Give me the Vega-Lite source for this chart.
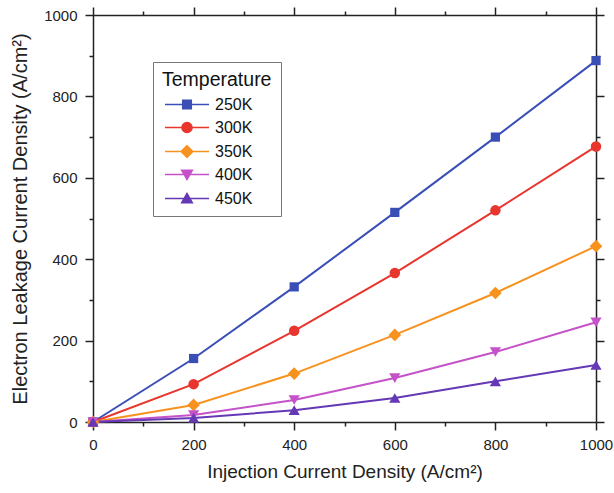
{
  "$schema": "https://vega.github.io/schema/vega-lite/v6.json",
  "width": 503,
  "height": 407,
  "autosize": {"type": "none"},
  "padding": {"left": 93, "top": 15, "right": 18, "bottom": 71},
  "background": "white",
  "config": {
    "font": "Liberation Sans",
    "view": {"stroke": null},
    "axis": {
      "grid": false,
      "labelFont": "Liberation Sans",
      "titleFont": "Liberation Sans",
      "labelFontSize": 15,
      "titleFontSize": 19,
      "titleFontWeight": "normal",
      "labelColor": "#222",
      "titleColor": "#222",
      "domainColor": "#222",
      "tickColor": "#222",
      "domainWidth": 1.5,
      "tickWidth": 1.5,
      "labelFlush": false,
      "format": "d"
    }
  },
  "data": {
    "values": [
      {"x": 0, "y": 0, "T": "250K"}, {"x": 200, "y": 156, "T": "250K"}, {"x": 400, "y": 332, "T": "250K"}, {"x": 600, "y": 515, "T": "250K"}, {"x": 800, "y": 700, "T": "250K"}, {"x": 1000, "y": 888, "T": "250K"},
      {"x": 0, "y": 0, "T": "300K"}, {"x": 200, "y": 93, "T": "300K"}, {"x": 400, "y": 224, "T": "300K"}, {"x": 600, "y": 366, "T": "300K"}, {"x": 800, "y": 520, "T": "300K"}, {"x": 1000, "y": 677, "T": "300K"},
      {"x": 0, "y": 0, "T": "350K"}, {"x": 200, "y": 42, "T": "350K"}, {"x": 400, "y": 119, "T": "350K"}, {"x": 600, "y": 214, "T": "350K"}, {"x": 800, "y": 317, "T": "350K"}, {"x": 1000, "y": 432, "T": "350K"},
      {"x": 0, "y": 0, "T": "400K"}, {"x": 200, "y": 17, "T": "400K"}, {"x": 400, "y": 54, "T": "400K"}, {"x": 600, "y": 108, "T": "400K"}, {"x": 800, "y": 172, "T": "400K"}, {"x": 1000, "y": 245, "T": "400K"},
      {"x": 0, "y": 0, "T": "450K"}, {"x": 200, "y": 10, "T": "450K"}, {"x": 400, "y": 29, "T": "450K"}, {"x": 600, "y": 59, "T": "450K"}, {"x": 800, "y": 100, "T": "450K"}, {"x": 1000, "y": 140, "T": "450K"}
    ]
  },
  "resolve": {"axis": {"x": "independent", "y": "independent"}},
  "layer": [
    {
      "mark": {"type": "line", "strokeWidth": 2},
      "encoding": {
        "x": {"field": "x", "type": "quantitative", "scale": {"domain": [0, 1000], "nice": false},
          "axis": {"orient": "bottom", "values": [0, 200, 400, 600, 800, 1000], "tickSize": 8, "labelPadding": 7, "title": "Injection Current Density (A/cm²)", "titlePadding": 10}},
        "y": {"field": "y", "type": "quantitative", "scale": {"domain": [0, 1000], "nice": false},
          "axis": {"orient": "left", "values": [0, 200, 400, 600, 800, 1000], "tickSize": 8, "labelPadding": 8, "title": "Electron Leakage Current Density (A/cm²)", "titleFontSize": 20, "titlePadding": 13}},
        "color": {"field": "T", "type": "nominal",
          "scale": {"domain": ["250K", "300K", "350K", "400K", "450K"], "range": ["#3a4fb6", "#e8352d", "#f7921f", "#c552c8", "#6538b5"]},
          "legend": {
            "orient": "none", "legendX": 60, "legendY": 47,
            "title": "Temperature", "titleFontSize": 19.5, "titleFontWeight": "normal", "titleColor": "#111", "titlePadding": 6,
            "labelFontSize": 16, "labelColor": "#111",
            "padding": 9, "strokeColor": "#777", "fillColor": "white",
            "symbolSize": 100, "symbolOffset": 17, "labelOffset": 20, "rowPadding": 6,
            "encode": {"symbols": {"update": {
              "shape": {"signal": "datum.value === '250K' ? 'M-4.4,0H4.4M-0.85,-0.85H0.85V0.85H-0.85Z' : datum.value === '300K' ? 'M-4.4,0H-1M1,0H4.4M-1,0A1,1 0 1,0 1,0A1,1 0 1,0 -1,0Z' : datum.value === '350K' ? 'M-4.4,0H4.4M0,-1.15L1.15,0L0,1.15L-1.15,0Z' : datum.value === '400K' ? 'M-4.4,0H4.4M-1.05,-0.85H1.05L0,1Z' : 'M-4.4,0H4.4M-1.05,0.85H1.05L0,-1Z'"},
              "stroke": {"scale": "color", "field": "value"},
              "fill": {"scale": "color", "field": "value"},
              "strokeWidth": {"value": 1.6},
              "opacity": {"value": 1}
            }}}
          }}
      }
    },
    {
      "transform": [{"filter": "datum.T === '250K'"}],
      "mark": {"type": "point", "filled": true, "opacity": 1, "shape": "square", "size": 85},
      "encoding": {
        "x": {"field": "x", "type": "quantitative", "axis": null},
        "y": {"field": "y", "type": "quantitative", "axis": null},
        "color": {"field": "T", "type": "nominal"}
      }
    },
    {
      "transform": [{"filter": "datum.T === '300K'"}],
      "mark": {"type": "point", "filled": true, "opacity": 1, "shape": "circle", "size": 110},
      "encoding": {
        "x": {"field": "x", "type": "quantitative", "axis": null},
        "y": {"field": "y", "type": "quantitative", "axis": null},
        "color": {"field": "T", "type": "nominal"}
      }
    },
    {
      "transform": [{"filter": "datum.T === '350K'"}],
      "mark": {"type": "point", "filled": true, "opacity": 1, "shape": "diamond", "size": 160},
      "encoding": {
        "x": {"field": "x", "type": "quantitative", "axis": null},
        "y": {"field": "y", "type": "quantitative", "axis": null},
        "color": {"field": "T", "type": "nominal"}
      }
    },
    {
      "transform": [{"filter": "datum.T === '400K'"}],
      "mark": {"type": "point", "filled": true, "opacity": 1, "shape": "triangle-down", "size": 125},
      "encoding": {
        "x": {"field": "x", "type": "quantitative", "axis": null},
        "y": {"field": "y", "type": "quantitative", "axis": null},
        "color": {"field": "T", "type": "nominal"}
      }
    },
    {
      "transform": [{"filter": "datum.T === '450K'"}],
      "mark": {"type": "point", "filled": true, "opacity": 1, "shape": "triangle-up", "size": 125},
      "encoding": {
        "x": {"field": "x", "type": "quantitative", "axis": null},
        "y": {"field": "y", "type": "quantitative", "axis": null},
        "color": {"field": "T", "type": "nominal"}
      }
    },
    {
      "mark": {"type": "point", "opacity": 0},
      "encoding": {
        "x": {"field": "x", "type": "quantitative",
          "axis": {"orient": "bottom", "values": [100, 300, 500, 700, 900], "tickSize": 4, "labels": false, "domain": false, "title": null}},
        "y": {"field": "y", "type": "quantitative",
          "axis": {"orient": "left", "values": [100, 300, 500, 700, 900], "tickSize": 4, "labels": false, "domain": false, "title": null}}
      }
    },
    {
      "mark": {"type": "point", "opacity": 0},
      "encoding": {
        "x": {"field": "x", "type": "quantitative",
          "axis": {"orient": "top", "values": [0, 200, 400, 600, 800, 1000], "tickSize": 8, "labels": false, "title": null}},
        "y": {"field": "y", "type": "quantitative",
          "axis": {"orient": "right", "values": [0, 200, 400, 600, 800, 1000], "tickSize": 8, "labels": false, "title": null}}
      }
    },
    {
      "mark": {"type": "point", "opacity": 0},
      "encoding": {
        "x": {"field": "x", "type": "quantitative",
          "axis": {"orient": "top", "values": [100, 300, 500, 700, 900], "tickSize": 4, "labels": false, "domain": false, "title": null}},
        "y": {"field": "y", "type": "quantitative",
          "axis": {"orient": "right", "values": [100, 300, 500, 700, 900], "tickSize": 4, "labels": false, "domain": false, "title": null}}
      }
    }
  ]
}
